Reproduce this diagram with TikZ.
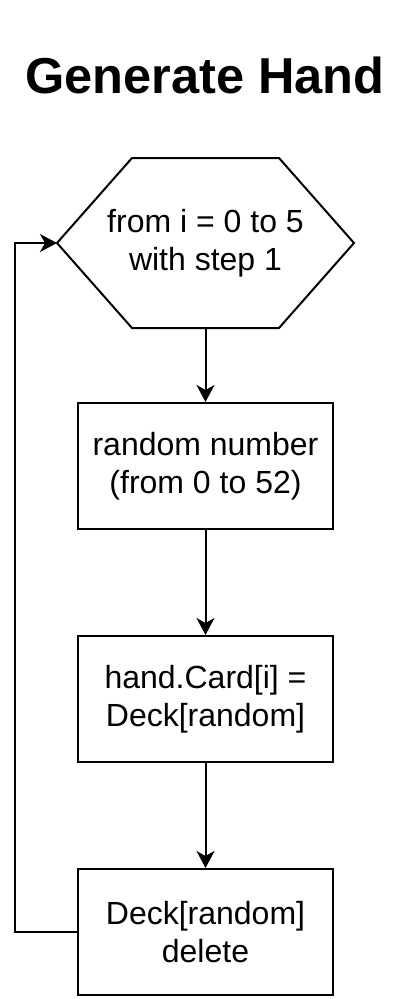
\documentclass[tikz,border=0pt]{standalone}
\usepackage{fontspec}
\setmainfont{Liberation Sans}
\usetikzlibrary{arrows.meta}
\tikzset{
  every picture/.style={line width=2pt},
  procbox/.style={draw=black, fill=white, minimum width=255pt, minimum height=126pt, inner sep=0pt, align=center, font=\fontsize{32}{38}\selectfont},
  hexcore/.style={minimum width=147pt, minimum height=170pt, inner sep=0pt, align=center, font=\fontsize{32}{38}\selectfont},
  flow/.style={-{Stealth[length=17pt,width=18pt,inset=5pt]}, line width=2pt},
  titletext/.style={font=\fontsize{50.5}{60}\selectfont\bfseries, anchor=base, inner sep=0pt}
}
\begin{document}
\begin{tikzpicture}[x=1pt,y=-1pt]
\useasboundingbox (0,0) rectangle (409,999);
\node[titletext] (title) at (205,93) {Generate Hand};
% hexagon
\coordinate (hl) at (57,243);
\coordinate (hr) at (354,243);
\draw[fill=white, line join=miter] (132,158) -- (279,158) -- (hr) -- (279,328) -- (132,328) -- (hl) -- cycle;
\node[hexcore] (loop) at (205.5,243) {from i = 0 to 5\\with step 1};
\node[procbox] (rand) at (205.5,466) {random number\\(from 0 to 52)};
\node[procbox] (card) at (205.5,699) {hand.Card[i] =\\Deck[random]};
\node[procbox] (del) at (205.5,932) {Deck[random]\\delete};
\draw[flow] (loop.south) -- (rand.north);
\draw[flow] (rand.south) -- (card.north);
\draw[flow] (card.south) -- (del.north);
\coordinate (lc1) at (15,932);
\coordinate (lc2) at (15,243);
\draw[flow] (del.west) -- (lc1) -- (lc2) -- (hl);
\end{tikzpicture}
\end{document}
